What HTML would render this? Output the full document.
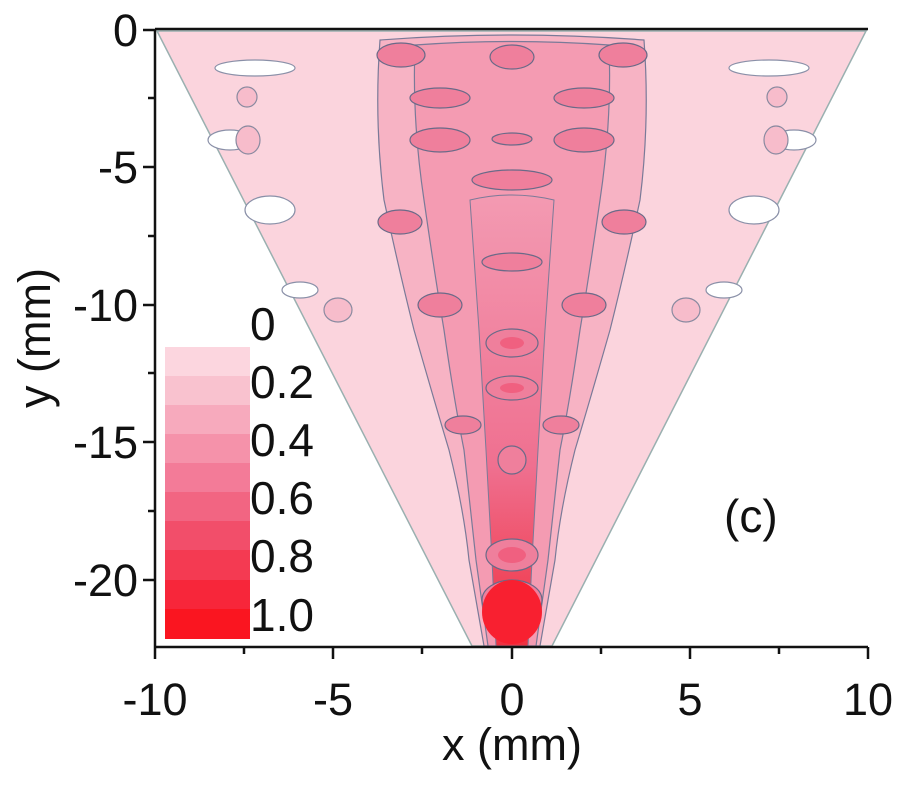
<!DOCTYPE html>
<html><head><style>body{margin:0;background:#fff}svg{display:block}text{font-family:"Liberation Sans",sans-serif;fill:#111}</style></head>
<body>
<svg width="900" height="800" viewBox="0 0 900 800">
<defs>
<linearGradient id="col" x1="0" y1="0" x2="0" y2="1">
<stop offset="0" stop-color="#f39ab2"/><stop offset="0.6" stop-color="#ef7090"/><stop offset="1" stop-color="#f03040"/>
</linearGradient>
</defs>
<path d="M157,31 L866,31 L552,646 L472,646 Z" fill="#fbd4dd" stroke="#9ab0b0" stroke-width="1.5"/>
<g fill="#fff" stroke="#8a90a8" stroke-width="1.2">
<ellipse cx="255" cy="68" rx="40" ry="8"/><ellipse cx="769" cy="68" rx="40" ry="8"/>
<ellipse cx="230" cy="140" rx="22" ry="10"/><ellipse cx="794" cy="140" rx="22" ry="10"/>
<ellipse cx="270" cy="210" rx="25" ry="14"/><ellipse cx="754" cy="210" rx="25" ry="14"/>
<ellipse cx="300" cy="290" rx="18" ry="8"/><ellipse cx="724" cy="290" rx="18" ry="8"/>
</g>
<path d="M380,40 Q512,30 644,40 Q650,120 640,200 Q625,270 610,330 Q590,400 575,450 Q560,510 555,560 L540,646 L484,646 L469,560 Q464,510 449,450 Q434,400 414,330 Q399,270 384,200 Q374,120 380,40 Z" fill="#f7b3c4" stroke="#7a7a98" stroke-width="1.2"/>
<path d="M415,45 Q512,38 609,45 Q612,120 600,200 Q590,270 580,330 Q570,400 560,450 L548,560 L536,646 L488,646 L476,560 L464,450 Q454,400 444,330 Q434,270 424,200 Q412,120 415,45 Z" fill="#f49bb2" stroke="#7a7a98" stroke-width="1.2"/>
<path d="M470,200 Q512,190 554,200 L545,330 L538,450 L532,560 L528,646 L496,646 L492,560 L486,450 L479,330 Z" fill="url(#col)" stroke="#7a7a98" stroke-width="1"/>
<g fill="#ef7f9c" stroke="#6a6a88" stroke-width="1.2">
<ellipse cx="401" cy="55" rx="24" ry="12"/><ellipse cx="623" cy="55" rx="24" ry="12"/><ellipse cx="512" cy="57" rx="22" ry="12"/>
<ellipse cx="440" cy="98" rx="30" ry="10"/><ellipse cx="584" cy="98" rx="30" ry="10"/>
<ellipse cx="440" cy="140" rx="30" ry="12"/><ellipse cx="584" cy="140" rx="30" ry="12"/><ellipse cx="512" cy="139" rx="20" ry="6"/>
<ellipse cx="512" cy="180" rx="40" ry="10"/>
<ellipse cx="400" cy="222" rx="22" ry="12"/><ellipse cx="624" cy="222" rx="22" ry="12"/>
<ellipse cx="512" cy="262" rx="30" ry="9"/>
<ellipse cx="440" cy="305" rx="22" ry="12"/><ellipse cx="584" cy="305" rx="22" ry="12"/>
<ellipse cx="512" cy="343" rx="26" ry="14"/><ellipse cx="512" cy="388" rx="26" ry="12"/>
<ellipse cx="463" cy="425" rx="18" ry="9"/><ellipse cx="561" cy="425" rx="18" ry="9"/>
<ellipse cx="512" cy="460" rx="14" ry="14"/>
<ellipse cx="512" cy="555" rx="26" ry="16"/><ellipse cx="512" cy="600" rx="30" ry="20"/>
</g>
<g fill="#f06080"><ellipse cx="512" cy="343" rx="12" ry="6"/><ellipse cx="512" cy="388" rx="12" ry="5"/><ellipse cx="512" cy="555" rx="14" ry="8"/></g>
<ellipse cx="512" cy="612" rx="30" ry="32" fill="#f82030"/>
<g fill="#f7bccb" stroke="#8a8aa0" stroke-width="1.2">
<ellipse cx="248" cy="140" rx="12" ry="14"/><ellipse cx="776" cy="140" rx="12" ry="14"/>
<ellipse cx="338" cy="310" rx="14" ry="12"/><ellipse cx="686" cy="310" rx="14" ry="12"/>
<ellipse cx="247" cy="97" rx="10" ry="10"/><ellipse cx="777" cy="97" rx="10" ry="10"/>
</g>
<!-- colorbar banded -->
<g>
<rect x="165" y="347" width="85" height="29" fill="#fcd6df"/>
<rect x="165" y="376" width="85" height="29" fill="#f9c2cf"/>
<rect x="165" y="405" width="85" height="29" fill="#f7aabd"/>
<rect x="165" y="434" width="85" height="29" fill="#f592aa"/>
<rect x="165" y="463" width="85" height="29" fill="#f37b98"/>
<rect x="165" y="492" width="85" height="29" fill="#f26582"/>
<rect x="165" y="521" width="85" height="29" fill="#f24e6a"/>
<rect x="165" y="550" width="85" height="30" fill="#f43a52"/>
<rect x="165" y="580" width="85" height="29" fill="#f7263a"/>
<rect x="165" y="609" width="85" height="30" fill="#fa1520"/>
</g>
<g stroke="#111" stroke-width="2.5" fill="none">
<line x1="155" y1="29" x2="868" y2="29"/>
<line x1="155" y1="29" x2="155" y2="647"/>
<line x1="155" y1="647" x2="868" y2="647"/>
<path d="M155,647v12 M333,647v12 M512,647v12 M690,647v12 M868,647v12 M244,647v7 M422,647v7 M601,647v7 M779,647v7"/>
<path d="M155,30h-12 M155,167h-12 M155,305h-12 M155,442h-12 M155,580h-12 M155,98h-7 M155,236h-7 M155,373h-7 M155,511h-7"/>
</g>
<g font-size="45" text-anchor="end">
<text x="138" y="46">0</text><text x="138" y="183">-5</text><text x="138" y="321">-10</text><text x="138" y="458">-15</text><text x="138" y="596">-20</text>
</g>
<g font-size="45" text-anchor="middle">
<text x="155" y="715">-10</text><text x="333" y="715">-5</text><text x="512" y="715">0</text><text x="690" y="715">5</text><text x="868" y="715">10</text>
<text x="512" y="760">x (mm)</text>
<text transform="translate(50,338) rotate(-90)">y (mm)</text>
</g>
<g font-size="46">
<text x="250" y="340">0</text><text x="250" y="398">0.2</text><text x="250" y="456">0.4</text><text x="250" y="514">0.6</text><text x="250" y="572">0.8</text><text x="250" y="631">1.0</text>
<text x="724" y="532">(c)</text>
</g>
</svg>
</body></html>
